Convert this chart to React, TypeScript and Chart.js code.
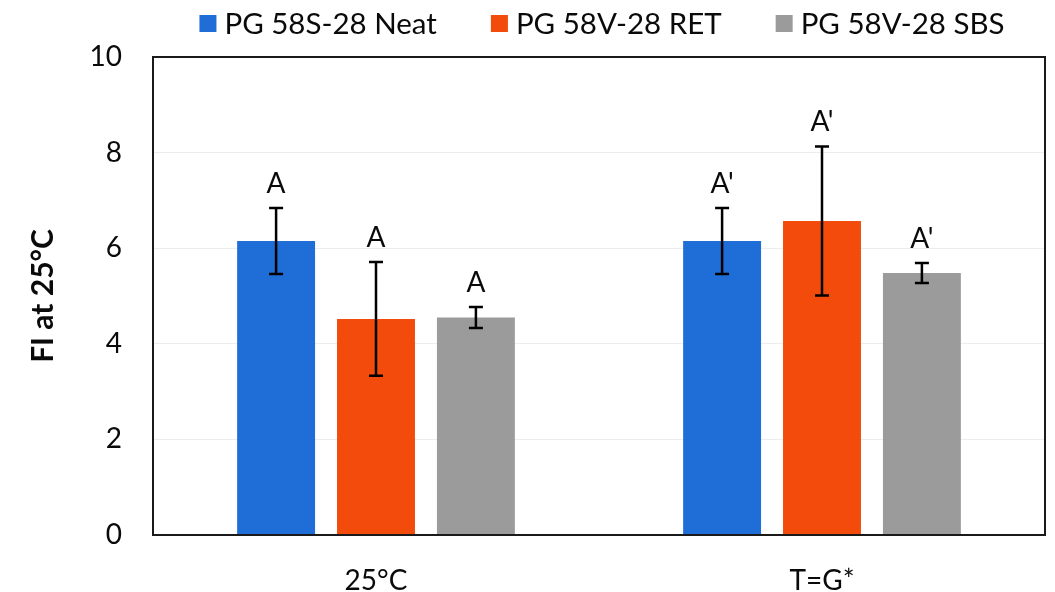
import React, { useEffect, useRef } from "react";
import { Chart, registerables } from "chart.js";

Chart.register(...registerables);

// ---- data ----
const categories = ["25°C", "T=G*"];
const seriesNames = ["PG 58S-28 Neat", "PG 58V-28 RET", "PG 58V-28 SBS"];
const neatValues = [6.15, 6.15];
const retValues = [4.52, 6.57];
const sbsValues = [4.55, 5.48];
const neatErrors = [0.69, 0.69];
const retErrors = [1.19, 1.56];
const sbsErrors = [0.22, 0.21];
const neatLetters = ["A", "A'"];
const retLetters = ["A", "A'"];
const sbsLetters = ["A", "A'"];
const yMin = 0;
const yMax = 10;
const yStep = 2;
const yTitle = "FI at 25°C";

const seriesValues = [neatValues, retValues, sbsValues];
const seriesErrors = [neatErrors, retErrors, sbsErrors];
const seriesLetters = [neatLetters, retLetters, sbsLetters];
const seriesColors = ["#1F6DD6", "#F24B0C", "#9B9B9B"];

const FONT = "Lato, 'Open Sans', sans-serif";
const TEXT = "#0a0a0a";

const errorBarPlugin = {
  id: "errorBarsAndLetters",
  afterDatasetsDraw(chart: any) {
    const ctx = chart.ctx;
    const ys = chart.scales.y;
    chart.data.datasets.forEach((ds: any, di: number) => {
      const meta = chart.getDatasetMeta(di);
      meta.data.forEach((bar: any, i: number) => {
        const v = ds.data[i];
        const e = seriesErrors[di][i];
        const top = ys.getPixelForValue(v + e);
        const bot = ys.getPixelForValue(v - e);
        ctx.save();
        ctx.strokeStyle = "#000";
        ctx.lineWidth = 2.5;
        ctx.beginPath();
        ctx.moveTo(bar.x, top);
        ctx.lineTo(bar.x, bot);
        ctx.moveTo(bar.x - 7, top);
        ctx.lineTo(bar.x + 7, top);
        ctx.moveTo(bar.x - 7, bot);
        ctx.lineTo(bar.x + 7, bot);
        ctx.stroke();
        ctx.font = `28px ${FONT}`;
        ctx.fillStyle = TEXT;
        ctx.textAlign = "center";
        ctx.textBaseline = "alphabetic";
        ctx.fillText(seriesLetters[di][i], bar.x, top - 15);
        ctx.restore();
      });
    });
  },
};

const frameAndLegendPlugin = {
  id: "frameAndLegend",
  afterDraw(chart: any) {
    const ctx = chart.ctx;
    const a = chart.chartArea;
    ctx.save();
    ctx.strokeStyle = "#1a1a1a";
    ctx.lineWidth = 2;
    ctx.strokeRect(a.left, a.top, a.right - a.left, a.bottom - a.top);

    // legend
    ctx.font = `29.5px ${FONT}`;
    const box = 17;
    const gapBoxText = 8;
    const gapItems = 54;
    const widths = chart.data.datasets.map((d: any) => ctx.measureText(d.label).width);
    const total =
      widths.reduce((s: number, w: number) => s + box + gapBoxText + w, 0) +
      gapItems * (widths.length - 1);
    let x = (a.left + a.right) / 2 + 3 - total / 2;
    const baseline = 34;
    chart.data.datasets.forEach((d: any, i: number) => {
      ctx.fillStyle = d.backgroundColor;
      ctx.fillRect(x, baseline - 19, box, box);
      x += box + gapBoxText;
      ctx.fillStyle = TEXT;
      ctx.textAlign = "left";
      ctx.textBaseline = "alphabetic";
      ctx.fillText(d.label, x, baseline);
      x += widths[i] + gapItems;
    });
    ctx.restore();
  },
};

export default function App() {
  const ref = useRef<HTMLCanvasElement | null>(null);

  useEffect(() => {
    if (!ref.current) return;
    const chart = new Chart(ref.current, {
      type: "bar",
      data: {
        labels: categories,
        datasets: seriesNames.map((name, i) => ({
          label: name,
          data: seriesValues[i],
          backgroundColor: seriesColors[i],
          borderWidth: 0,
          categoryPercentage: 0.672,
          barPercentage: 0.78,
        })),
      },
      options: {
        animation: false,
        responsive: true,
        maintainAspectRatio: false,
        layout: { padding: { top: 57, right: 10, bottom: 0, left: 0 } },
        plugins: {
          legend: { display: false },
          tooltip: { enabled: false },
        },
        scales: {
          x: {
            grid: { display: false, drawTicks: false },
            border: { display: false },
            ticks: {
              padding: 29,
              color: TEXT,
              font: { family: FONT, size: 28 },
            },
            afterFit(scale: any) {
              scale.height = 57;
            },
          },
          y: {
            min: yMin,
            max: yMax,
            ticks: {
              stepSize: yStep,
              padding: 31,
              color: TEXT,
              font: { family: FONT, size: 28 },
            },
            grid: { color: "rgba(0,0,0,0.07)", lineWidth: 1, drawTicks: false },
            border: { display: false },
            title: {
              display: true,
              text: yTitle,
              color: TEXT,
              font: { family: FONT, size: 30, weight: "bold" },
              padding: { top: 25, bottom: 0 },
            },
            afterFit(scale: any) {
              scale.width = 153;
            },
          },
        },
      },
      plugins: [errorBarPlugin, frameAndLegendPlugin],
    } as any);
    return () => chart.destroy();
  }, []);

  return (
    <div style={{ position: "absolute", left: 0, top: 0, width: 1055, height: 592, background: "#fff" }}>
      <canvas ref={ref} />
    </div>
  );
}
